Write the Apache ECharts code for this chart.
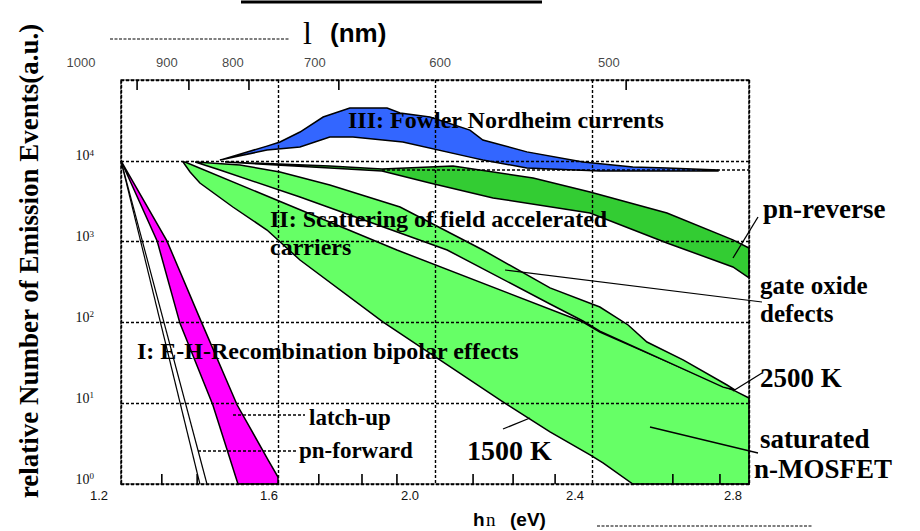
<!DOCTYPE html>
<html><head><meta charset="utf-8">
<script src="https://cdn.jsdelivr.net/npm/echarts@6/dist/echarts.min.js"></script>
<style>html,body{margin:0;padding:0;background:#fff}#c{width:920px;height:531px}</style>
</head><body><div id="c"></div>
<script>
// ---------- data: photon energy (eV) vs. relative number of emission events ----------
const energyTicks = [1.2, 1.6, 2.0, 2.4, 2.8];
const energyTickLabels = ['1.2', '1.6', '2.0', '2.4', '2.8'];
const energyMinorTicks = [1.304, 1.394, 1.704, 1.814, 1.903, 2.097, 2.199, 2.306, 2.606, 2.726];
const wavelengthLabels = ['1000', '900', '800', '700', '600', '500'];
const wavelengthLabelEnergy = [1.098, 1.317, 1.485, 1.694, 2.013, 2.443];
const wavelengthTickEnergy = [1.241, 1.373, 1.526, 1.755, 2.487];

const latchUp = [[1.2,1e4],[1.317,1020],[1.406,98],[1.496,9.5],[1.575,1.98],[1.6,1.22],[1.6,1],
  [1.498,1],[1.434,9.5],[1.35,98],[1.292,1020]];
const pnForwardA = [[1.2,1e4],[1.401,1]];
const pnForwardB = [[1.2,1e4],[1.419,1]];
const fowlerNordheim = [[1.452,1.02e4],[1.572,1.52e4],[1.605,1.71e4],[1.656,2.27e4],[1.715,3.48e4],
  [1.783,4.5e4],[1.878,4.5e4],[1.911,3.91e4],[1.987,3.48e4],[2.089,2.4e4],[2.122,1.81e4],[2.234,1.29e4],
  [2.377,9.66e3],[2.504,8.38e3],[2.591,8.15e3],[2.721,7.69e3],
  [2.721,7.48e3],[2.42,7.48e3],[2.234,8.15e3],[2.122,1.02e4],[2.089,1.11e4],[1.918,1.71e4],
  [1.791,1.97e4],[1.732,1.97e4],[1.656,1.48e4],[1.572,1.36e4]];
const pnReverse = [[1.465,9.66e3],[1.732,8.63e3],[1.865,7.92e3],[2.046,8.63e3],[2.25,6.12e3],[2.395,4.11e3],
  [2.591,2.26e3],[2.759,1.05e3],[2.8,834],[2.8,355],[2.759,485],[2.591,961],[2.395,2.26e3],[2.148,3.47e3],
  [1.987,5.31e3],[1.865,7.48e3],[1.732,8.15e3]];
const gateOxide = [[1.389,9.66e3],[1.503,8.87e3],[1.605,7.26e3],[1.732,5.01e3],[1.911,2.68e3],[2.122,787],
  [2.293,267],[2.42,155],[2.492,92.9],[2.54,57.2],[2.632,34.3],[2.744,16.8],[2.764,14.6],
  [2.734,15.8],[2.42,78],[2.377,104],[2.293,169],[2.031,787],[1.911,1.28e3],[1.656,3.56e3],[1.452,7.69e3]];
const nMosfet = [[1.363,9.66e3],[1.903,787],[2.377,101],[2.42,76],[2.734,16.3],[2.764,14.2],[2.8,11.6],
  [2.8,1],[2.504,1],[2.428,1.82],[2.395,2.29],[2.293,4.41],[2.173,10.4],[1.868,101],[1.656,592],
  [1.572,1.39e3],[1.485,2.68e3],[1.401,5.31e3],[1.376,7.26e3],[1.358,9.66e3]];
const secondLevel = [[1.865,7.69e3],[2.8,7.69e3]];

// ---------- chart ----------
const SERIF = '"Liberation Serif", "Times New Roman", serif';
const SANS = '"Liberation Sans", Arial, sans-serif';
const dash = [3, 2];
const gridLine = {color:'#000', width:1.4, type:dash};

function polygonSeries(pts, fill) {
  return {type:'custom', coordinateSystem:'cartesian2d', data:[[1.2,1]], silent:true, z:2,
    renderItem: (p, api) => ({type:'polygon', shape:{points: pts.map(v => api.coord(v))},
      style:{fill: fill, stroke:'#000', lineWidth:1.5}})};
}
function lineSeries(pts, lineDash, w) {
  return {type:'custom', coordinateSystem:'cartesian2d', data:[[1.2,1]], silent:true, z:3,
    renderItem: (p, api) => ({type:'polyline', shape:{points: pts.map(v => api.coord(v))},
      style:{fill:null, stroke:'#000', lineWidth:w || 1.2, lineDash: lineDash || null}})};
}
// inward frame ticks as thin bar symbols (offset = +5: hang down from top edge, -5: stand up from bottom edge)
function tickScatter(values, edgeValue, offset) {
  return {type:'scatter', xAxisIndex:0, yAxisIndex:0, clip:false, silent:true, z:20,
    symbol:'rect', symbolSize:[1.6, 10], symbolOffset:[0, offset],
    itemStyle:{color:'#000', opacity:1}, emphasis:{disabled:true},
    data: values.map(x => [x, edgeValue])};
}

const xShift = [44, 18, 50, 34, 32];
const xRich = {};
xShift.forEach((s, i) => { xRich['s' + i] = {padding:[0, s, 0, 0]}; });

function txt(text, x, y, size, opts) {
  opts = opts || {};
  return {type:'text', x:x, y:y, z:50, rotation: opts.rot || 0,
    style:{text:text, fill:'#000', font:(opts.weight || 'bold') + ' ' + size + 'px ' + (opts.family || SERIF),
      align: opts.align || 'left', verticalAlign:'middle', textAlign: opts.align || 'left', textVerticalAlign:'middle'}};
}
function seg(x1, y1, x2, y2, w, d) {
  return {type:'line', z:50, shape:{x1:x1, y1:y1, x2:x2, y2:y2}, style:{stroke:'#000', lineWidth:w || 1.3, lineDash:d || null}};
}

const chart = echarts.init(document.getElementById('c'), null, {renderer:'svg'});
chart.setOption({
  animation:false,
  backgroundColor:'#fff',
  grid:{left:121, right:171, top:80, bottom:47},
  xAxis:[
    {type:'value', position:'bottom', min:1.2, max:2.8, interval:0.4, z:10,
      axisLine:{show:true, onZero:false, lineStyle:{color:'#000', width:1.5, type:dash}},
      axisTick:{show:false},
      splitLine:{show:true, lineStyle:gridLine},
      axisLabel:{margin:5, fontFamily:SANS, fontSize:13, color:'#111', rich:xRich,
        formatter: v => { const i = energyTicks.findIndex(t => Math.abs(t - v) < 1e-6); return i < 0 ? '' : '{s' + i + '|' + energyTickLabels[i] + '}'; }}},
    {type:'value', position:'top', min:1.2, max:2.8, z:10,
      axisLine:{show:true, onZero:false, lineStyle:{color:'#000', width:1.5, type:dash}},
      axisTick:{show:false}, axisLabel:{show:false}, splitLine:{show:false}}
  ],
  yAxis:[
    {type:'log', logBase:10, min:1, max:1e5, z:10, position:'left',
      axisLine:{show:true, onZero:false, lineStyle:{color:'#000', width:1.5, type:dash}},
      axisTick:{show:false},
      splitLine:{show:true, lineStyle:gridLine},
      axisLabel:{margin:27, padding:[0,0,10,0], color:'#111', showMaxLabel:false,
        formatter: v => { const e = Math.round(Math.log10(v)); return e >= 5 ? '' : '{b|10}{s|' + e + '}'; },
        rich:{b:{fontFamily:SERIF, fontSize:14, color:'#111'}, s:{fontFamily:SERIF, fontSize:9, color:'#111', verticalAlign:'top', padding:[0,0,6,0]}}}},
    {type:'log', logBase:10, min:1, max:1e5, z:10, position:'right',
      axisLine:{show:true, onZero:false, lineStyle:{color:'#000', width:1.5, type:dash}},
      axisTick:{show:false}, axisLabel:{show:false}, splitLine:{show:false}}
  ],
  series:[
    polygonSeries(nMosfet, '#66ff66'),
    polygonSeries(gateOxide, '#66ff66'),
    polygonSeries(pnReverse, '#33cc33'),
    polygonSeries(fowlerNordheim, '#3366ff'),
    polygonSeries(latchUp, '#ff00ff'),
    lineSeries(pnForwardA), lineSeries(pnForwardB),
    lineSeries(secondLevel, [3,2], 1.4),
    tickScatter(wavelengthTickEnergy, 1e5, 5),
    tickScatter(energyMinorTicks, 1, -5),
    {type:'scatter', xAxisIndex:1, yAxisIndex:0, clip:false, silent:true, symbolSize:1,
      itemStyle:{color:'rgba(0,0,0,0)'},
      data: wavelengthLabelEnergy.map((x, i) => ({value:[x, 1e5], label:{formatter: wavelengthLabels[i]}})),
      label:{show:true, position:'top', distance:11, fontFamily:SANS, fontSize:13, color:'#111'}}
  ],
  graphic:[
    txt('relative Number of Emission Events(a.u.)', 29, 261, 27, {align:'center', rot:Math.PI/2}),
    seg(241, 2, 542, 2, 3),
    seg(110, 39, 290, 39, 1.2, [3,1.5]),
    txt('l', 303, 33, 32, {weight:'normal'}),
    txt('(nm)', 330, 33, 26, {family:SANS}),
    txt('h', 473, 519, 19, {family:SANS}),
    txt('n', 486, 519, 19, {weight:'normal'}),
    txt('(eV)', 510, 519, 19, {family:SANS}),
    seg(597, 526, 812, 526, 1.2, [3,1.5]),
    txt('III: Fowler Nordheim currents', 348, 120, 24),
    txt('II: Scattering of field accelerated', 270, 219, 24),
    txt('carriers', 270, 247, 24),
    txt('I: E-H-Recombination bipolar effects', 137, 351, 24),
    txt('latch-up', 309, 417, 23),
    txt('pn-forward', 299, 450, 23),
    txt('1500 K', 467, 450, 28),
    txt('pn-reverse', 763, 209, 27),
    txt('gate oxide', 760, 285, 25),
    txt('defects', 760, 313, 25),
    txt('2500 K', 760, 378, 27),
    txt('saturated', 760, 439, 27),
    txt('n-MOSFET', 754, 469, 27),
    seg(733, 258, 758, 217),
    seg(505, 270, 762, 302, 1.2),
    seg(733, 391, 762, 373),
    seg(650, 427, 758, 453),
    seg(503, 429, 530, 418),
    seg(233, 415, 305, 415, 1.4, [3,2]),
    seg(198, 451, 298, 451, 1.4, [3,2])
  ]
});
</script></body></html>
